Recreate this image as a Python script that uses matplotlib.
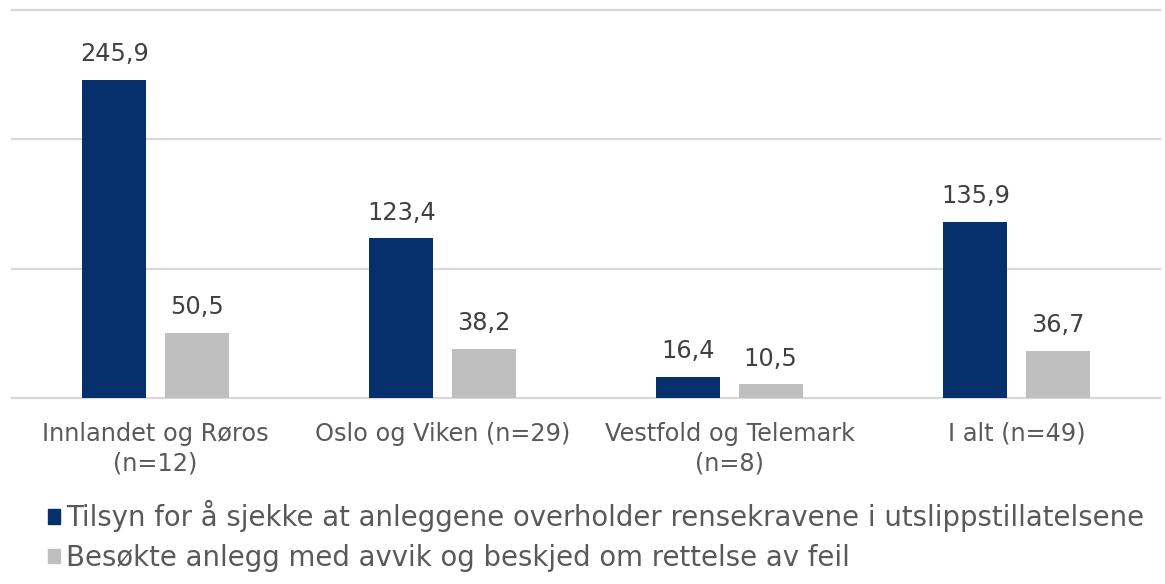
import matplotlib
matplotlib.use("Agg")
import matplotlib.pyplot as plt
import numpy as np
from matplotlib.patches import Patch

categories = ["Innlandet og Røros\n(n=12)", "Oslo og Viken (n=29)", "Vestfold og Telemark\n(n=8)", "I alt (n=49)"]
series_names = ["Tilsyn for å sjekke at anleggene overholder rensekravene i utslippstillatelsene",
                "Besøkte anlegg med avvik og beskjed om rettelse av feil"]
tilsyn = [245.9, 123.4, 16.4, 135.9]
avvik = [50.5, 38.2, 10.5, 36.7]
colors = ["#06306B", "#BFBFBF"]

plt.rcParams['font.family'] = ['DejaVu Sans']
fig = plt.figure(figsize=(11.65, 5.84), dpi=100)
ax = fig.add_axes([12/1165, 1 - 398/584, (1160-12)/1165, (398-10)/584])

x = np.arange(len(categories))
w = 0.223
off = 0.1435
b1 = ax.bar(x - off, tilsyn, w, color=colors[0], zorder=3)
b2 = ax.bar(x + off, avvik, w, color=colors[1], zorder=3)

def fmt(v):
    return f"{v:.1f}".replace(".", ",")

for bars, vals in ((b1, tilsyn), (b2, avvik)):
    for r, v in zip(bars, vals):
        ax.annotate(fmt(v), (r.get_x() + r.get_width()/2, v), xytext=(0, 10),
                    textcoords="offset points", ha="center", va="bottom",
                    fontsize=17.3, color="#404040")

ax.set_xlim(-0.5, 3.5)
ax.set_ylim(0, 300)
ax.set_yticks([0, 100, 200, 300])
ax.yaxis.grid(True, color="#D9D9D9", linewidth=1.6, zorder=0)
for gl in ax.get_ygridlines():
    gl.set_clip_on(False)
ax.tick_params(axis="y", left=False, labelleft=False)
ax.tick_params(axis="x", length=0, pad=17, labelsize=17.3, labelcolor="#595959")
ax.set_xticks(x)
ax.set_xticklabels(categories, linespacing=1.3)
for s in ax.spines.values():
    s.set_visible(False)

handles = [Patch(color=c) for c in colors]
fig.legend(handles, series_names, loc="upper left", bbox_to_anchor=(48/1165, 1 - 500/584),
           frameon=False, fontsize=19.8, labelcolor="#595959", handlelength=0.45, handleheight=0.45,
           handletextpad=0.2, labelspacing=0.42, borderaxespad=0, borderpad=0)

fig.savefig("out.png", dpi=100)
